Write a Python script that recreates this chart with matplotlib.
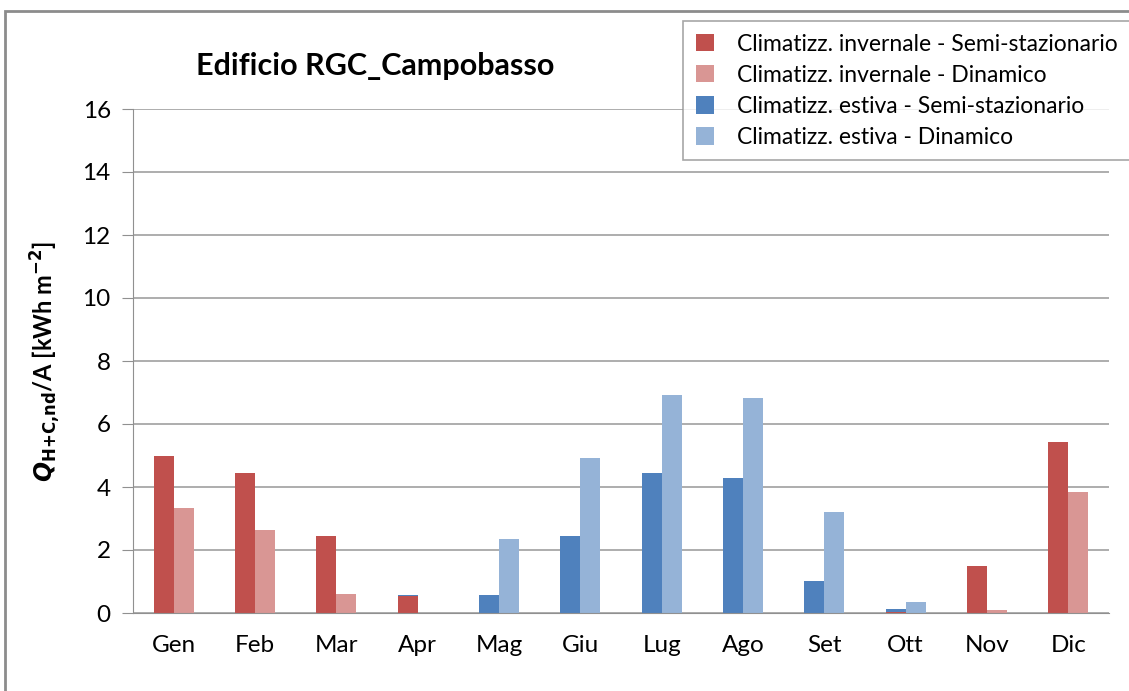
import numpy as np
import matplotlib
matplotlib.use("Agg")
import matplotlib.pyplot as plt
from matplotlib.patches import Rectangle

plt.rcParams['font.family'] = ['Lato', 'DejaVu Sans']

months = ["Gen", "Feb", "Mar", "Apr", "Mag", "Giu", "Lug", "Ago", "Set", "Ott", "Nov", "Dic"]

# kWh/m2 per month
inv_semi = [4.98, 4.43, 2.43, 0.53, 0.0, 0.0, 0.0, 0.0, 0.0, 0.04, 1.48, 5.44]
inv_dyn = [3.32, 2.65, 0.61, 0.0, 0.0, 0.0, 0.0, 0.0, 0.0, 0.0, 0.10, 3.84]
est_semi = [0.0, 0.0, 0.0, 0.05, 0.56, 2.45, 4.44, 4.29, 1.01, 0.08, 0.0, 0.0]
est_dyn = [0.0, 0.0, 0.0, 0.0, 2.35, 4.93, 6.92, 6.81, 3.22, 0.35, 0.0, 0.0]

labels = ["Climatizz. invernale - Semi-stazionario",
          "Climatizz. invernale - Dinamico",
          "Climatizz. estiva - Semi-stazionario",
          "Climatizz. estiva - Dinamico"]
colors = ["#C0504D", "#D99694", "#4F81BD", "#95B3D7"]

fig = plt.figure(figsize=(11.29, 6.91), dpi=100)
W, H = 1129, 691
ax = fig.add_axes([133 / W, 1 - 613 / H, (1109 - 133) / W, (613 - 109) / H])

x = np.arange(len(months))
w = 0.245
ax.bar(x - w / 2, inv_semi, w, color=colors[0], label=labels[0])
ax.bar(x + w / 2, inv_dyn, w, color=colors[1], label=labels[1])
ax.bar(x - w / 2, est_semi, w, bottom=inv_semi, color=colors[2], label=labels[2])
ax.bar(x + w / 2, est_dyn, w, bottom=inv_dyn, color=colors[3], label=labels[3])

ax.set_xlim(-0.5, len(months) - 0.5)
ax.set_ylim(0, 16)
ax.set_yticks(np.arange(0, 17, 2))
ax.set_xticks(x)
ax.set_xticklabels(months)
ax.yaxis.grid(True, color="#A0A0A0", linewidth=1.2)
ax.set_axisbelow(True)
for s in ["top", "right"]:
    ax.spines[s].set_visible(False)
ax.spines["left"].set_color("#909090")
ax.spines["bottom"].set_color("#909090")
ax.tick_params(axis="y", length=8, color="#909090", labelsize=17.5, pad=8)
ax.tick_params(axis="x", length=0, labelsize=17.5, pad=16)

ax.set_ylabel(r"$\boldsymbol{Q}_{\mathbf{H{+}C{,}nd}}$/A [kWh m$^{\mathbf{-2}}$]",
              fontsize=17, fontweight="bold", labelpad=14)

fig.text(375 / W, 1 - 66 / H, "Edificio RGC_Campobasso", fontsize=22,
         fontweight="bold", ha="center", va="center")

leg = fig.legend(loc="upper left", bbox_to_anchor=(683 / W, 1 - 21 / H),
                 borderaxespad=0, fontsize=16.5, frameon=True, fancybox=False,
                 borderpad=0.55, handlelength=0.8, handleheight=0.8,
                 labelspacing=0.44, handletextpad=1.0)
leg.get_frame().set_edgecolor("#909090")
leg.get_frame().set_linewidth(1.2)

fig.patches.append(Rectangle((5 / W, -0.05), 1.2, 1 - 11 / H + 0.05,
                             transform=fig.transFigure, fill=False,
                             edgecolor="#8C8C8C", linewidth=2))

fig.savefig("out.png", dpi=100)
